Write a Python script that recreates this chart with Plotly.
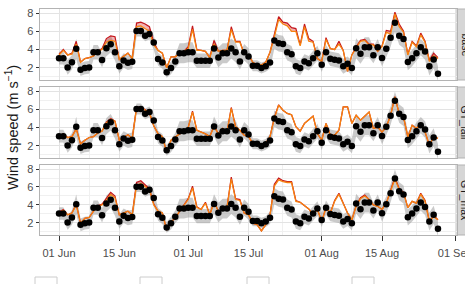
import pandas as pd
import plotly.graph_objects as go

# ---------------- data ----------------
start_date = "2019-06-01"
n_days = 89
dates = pd.date_range(start_date, periods=n_days, freq="D")

facet_labels = ["base", "GT_fall", "GT_max"]

obs = [3.05, 3.05, 2.03, 2.6, 4.07, 1.78, 1.97, 2.03, 3.7, 3.7,
       2.84, 4.15, 4.58, 3.7, 2.15, 2.8, 2.55, 2.65, 6.03, 6.03,
       5.5, 5.7, 4.76, 2.95, 2.58, 1.49, 1.97, 2.69, 3.6, 3.6,
       3.7, 3.7, 2.76, 2.76, 2.76, 2.76, 4.1, 3.13, 3.6, 3.6,
       4.1, 3.7, 2.69, 3.7, 3.24, 2.22, 2.22, 1.97, 2.15, 2.58,
       4.98, 4.69, 4.6, 3.7, 3.49, 2.15, 1.97, 2.69, 2.5, 3.05,
       3.6, 2.33, 3.7, 2.98, 2.87, 2.8, 2.15, 2.44, 1.97, 4.15,
       3.53, 4.26, 4.26, 3.38, 4.26, 3.06, 4.07, 5.3, 6.94, 5.52,
       5.16, 2.62, 3.05, 3.6, 4.26, 3.78, 2.15, 2.91, 1.35]

obs_spread = [0.7, 0.7, 0.8, 0.8, 1.1, 0.7, 0.7, 0.7, 0.8, 0.8,
              0.8, 0.9, 0.9, 0.9, 0.8, 0.8, 0.8, 0.8, 0.6, 0.6,
              0.6, 0.6, 0.8, 0.7, 0.7, 0.6, 0.7, 0.7, 1.1, 1.1,
              1.1, 1.1, 0.8, 0.8, 0.8, 0.8, 1.1, 1.1, 1.1, 1.1,
              1.1, 1.1, 0.9, 0.9, 0.9, 0.6, 0.6, 0.6, 0.6, 0.7,
              0.9, 0.9, 0.9, 0.9, 0.9, 0.8, 0.8, 0.8, 0.8, 0.8,
              0.8, 0.8, 0.8, 0.8, 0.8, 0.8, 0.8, 0.8, 0.8, 1.1,
              1.1, 1.1, 1.1, 0.9, 0.9, 0.9, 0.9, 1.0, 1.0, 1.0,
              1.0, 0.9, 0.9, 0.9, 0.9, 0.9, 1.0, 1.0, 0.8]

base_orange = [3.4, 3.9, 3.4, 3.5, 4.6, 2.6, 3.0, 3.1, 3.3, 3.8,
               4.0, 4.8, 5.0, 4.9, 2.9, 3.3, 3.6, 3.0, 6.5, 6.6,
               6.3, 6.0, 4.5, 3.9, 3.6, 2.0, 3.2, 3.2, 3.6, 3.8,
               4.1, 6.2, 3.9, 3.9, 3.8, 3.1, 4.6, 3.8, 3.9, 3.9,
               6.2, 4.8, 4.8, 3.5, 3.4, 2.6, 2.3, 2.3, 2.6, 3.7,
               5.4, 7.3, 6.8, 6.6, 6.0, 6.0, 4.4, 6.5, 4.9, 4.8,
               3.0, 2.7, 5.1, 4.1, 4.0, 4.6, 3.9, 1.6, 3.4, 4.1,
               4.9, 5.0, 4.5, 4.5, 3.8, 4.3, 5.9, 5.7, 7.9, 6.5,
               5.9, 3.4, 4.8, 4.3, 5.6, 4.8, 2.7, 3.3, 3.0]
base_red = [3.5, 4.0, 3.4, 3.6, 4.9, 2.6, 3.0, 3.1, 3.3, 3.8,
            4.1, 5.2, 5.5, 5.4, 2.9, 3.3, 3.6, 3.0, 6.9, 7.0,
            6.8, 6.5, 4.8, 3.9, 3.6, 2.0, 3.2, 3.2, 3.6, 3.8,
            4.3, 6.6, 4.0, 3.9, 3.8, 3.1, 5.0, 3.8, 3.9, 3.9,
            6.5, 4.9, 4.9, 3.5, 3.4, 2.6, 2.3, 2.3, 2.6, 3.7,
            5.6, 7.6, 7.0, 6.9, 6.4, 6.3, 4.5, 6.8, 5.2, 4.9,
            3.0, 2.7, 5.3, 4.1, 4.0, 4.9, 3.9, 1.6, 3.4, 4.3,
            5.0, 5.1, 4.6, 4.6, 3.8, 4.4, 6.1, 6.0, 8.1, 6.8,
            6.0, 3.5, 4.9, 4.4, 5.8, 4.9, 2.8, 3.6, 3.1]

fall_orange = [3.1, 3.3, 2.9, 3.0, 3.8, 2.2, 2.6, 2.9, 3.0, 3.4,
               3.6, 4.5, 4.9, 4.7, 2.6, 2.9, 3.2, 2.8, 6.1, 6.2,
               5.9, 5.6, 4.2, 3.3, 3.0, 1.3, 2.6, 3.0, 3.3, 3.5,
               4.0, 5.7, 3.7, 3.5, 3.3, 3.0, 4.1, 3.3, 3.9, 3.5,
               6.1, 4.1, 3.7, 3.15, 3.0, 2.25, 2.2, 1.9, 2.25, 3.0,
               5.0, 6.45, 5.9, 5.55, 5.4, 4.1, 3.6, 4.45, 4.9, 5.25,
               3.35, 2.6, 4.45, 3.15, 3.15, 3.7, 6.26, 6.26, 4.45, 5.35,
               4.8, 5.2, 5.7, 3.9, 4.05, 3.5, 4.05, 5.35, 7.36, 5.5,
               5.15, 2.97, 4.25, 3.9, 4.45, 3.5, 2.05, 2.97, 2.8]
fall_red = [3.1, 3.3, 2.9, 3.0, 3.9, 2.2, 2.6, 2.9, 3.0, 3.4,
            3.6, 4.6, 5.0, 4.7, 2.6, 2.9, 3.2, 2.8, 6.2, 6.3,
            5.9, 5.6, 4.2, 3.3, 3.0, 1.3, 2.6, 3.0, 3.3, 3.5,
            4.0, 5.8, 3.7, 3.5, 3.3, 3.0, 4.2, 3.3, 3.9, 3.5,
            6.2, 4.1, 3.7, 3.15, 3.0, 2.25, 2.2, 1.8, 2.25, 3.0,
            5.1, 6.5, 5.9, 5.55, 5.4, 4.1, 3.6, 4.45, 4.9, 5.25,
            3.35, 2.6, 4.45, 3.15, 3.15, 3.7, 6.26, 6.26, 4.45, 5.35,
            4.8, 5.2, 5.7, 3.9, 4.05, 3.5, 4.05, 5.35, 7.4, 5.5,
            5.15, 2.97, 4.25, 3.9, 4.45, 3.5, 2.05, 2.97, 2.8]

max_orange = [3.1, 3.4, 2.9, 3.1, 4.0, 1.97, 2.5, 2.6, 3.3, 3.85,
              4.0, 4.5, 5.17, 4.8, 2.9, 3.1, 3.3, 2.9, 6.2, 6.4,
              6.0, 5.7, 4.0, 3.3, 3.1, 1.2, 2.15, 2.5, 3.3, 4.0,
              4.6, 5.9, 3.7, 3.5, 4.2, 2.9, 4.3, 3.3, 3.5, 3.7,
              6.9, 4.6, 4.5, 3.1, 2.9, 1.97, 1.8, 1.1, 1.8, 2.9,
              6.1, 6.8, 6.6, 6.5, 6.5, 4.4, 4.3, 3.9, 3.55, 2.9,
              3.5, 2.15, 3.7, 3.1, 4.4, 5.2, 4.2, 3.1, 2.35, 3.85,
              4.7, 5.0, 4.6, 4.0, 3.85, 3.5, 4.2, 5.55, 6.9, 5.7,
              5.35, 3.7, 4.4, 4.2, 5.2, 4.4, 2.15, 2.7, 2.35]
max_red = [3.2, 3.5, 2.9, 3.1, 4.1, 1.97, 2.5, 2.6, 3.3, 3.9,
           4.1, 4.7, 5.4, 5.0, 2.9, 3.1, 3.3, 2.9, 6.5, 6.7,
           6.2, 5.8, 4.1, 3.3, 3.1, 1.2, 2.15, 2.5, 3.3, 4.0,
           4.7, 6.1, 3.8, 3.5, 4.3, 2.9, 4.4, 3.3, 3.5, 3.7,
           7.1, 4.7, 4.6, 3.1, 2.9, 1.97, 1.8, 1.1, 1.8, 2.9,
           6.3, 7.0, 6.7, 6.6, 6.6, 4.5, 4.3, 3.9, 3.55, 2.9,
           3.5, 2.15, 3.7, 3.1, 4.5, 5.3, 4.2, 3.1, 2.35, 3.9,
           4.8, 5.1, 4.6, 4.0, 3.85, 3.5, 4.2, 5.6, 7.1, 5.8,
           5.4, 3.7, 4.4, 4.2, 5.3, 4.5, 2.15, 2.8, 2.35]

model_orange = [base_orange, fall_orange, max_orange]
model_red = [base_red, fall_red, max_red]

x_tick_dates = ["2019-06-01", "2019-06-15", "2019-07-01", "2019-07-15",
                "2019-08-01", "2019-08-15", "2019-09-01"]
x_tick_labels = ["01 Jun", "15 Jun", "01 Jul", "15 Jul", "01 Aug", "15 Aug", "01 Sep"]
x_minor_dates = ["2019-06-08", "2019-06-23", "2019-07-08", "2019-07-23",
                 "2019-08-08", "2019-08-23"]
y_ticks = [2, 4, 6, 8]
y_minor = [1, 3, 5, 7]
x_range = ["2019-05-27 14:00", "2019-09-01 10:00"]
y_range = [0.65, 8.45]

# ---------------- style ----------------
FONT = "Liberation Sans, Arial, sans-serif"
ORANGE = "#f7820f"
RED = "#c4161c"
GRAY_RIB = "rgba(150,150,150,0.5)"
PINK = "rgba(215,40,40,0.35)"
BORDER = "#b3b3b3"

W, H = 465, 284
mt, mb, ml, mr = 9, 49, 40, 8
plot_h = H - mt - mb
plot_w = W - ml - mr
panels_px = [(9, 80), (87, 158), (165, 235)]
domains = [[(H - mb - b) / plot_h, (H - mb - t) / plot_h] for (t, b) in panels_px]

lo = [o - s for o, s in zip(obs, obs_spread)]
hi = [o + s for o, s in zip(obs, obs_spread)]

fig = go.Figure()
for i in range(3):
    xa = "x" if i == 0 else f"x{i+1}"
    ya = "y" if i == 0 else f"y{i+1}"
    fig.add_trace(go.Scatter(x=dates, y=lo, mode="lines", line=dict(width=0),
                             xaxis=xa, yaxis=ya, showlegend=False, hoverinfo="skip"))
    fig.add_trace(go.Scatter(x=dates, y=hi, mode="lines", line=dict(width=0),
                             fill="tonexty", fillcolor=GRAY_RIB,
                             xaxis=xa, yaxis=ya, showlegend=False, hoverinfo="skip"))
    fig.add_trace(go.Scatter(x=dates, y=model_orange[i], mode="lines",
                             line=dict(width=0), xaxis=xa, yaxis=ya,
                             showlegend=False, hoverinfo="skip"))
    fig.add_trace(go.Scatter(x=dates, y=model_red[i], mode="lines",
                             line=dict(color=RED, width=1.2), fill="tonexty",
                             fillcolor=PINK, xaxis=xa, yaxis=ya, showlegend=False))
    fig.add_trace(go.Scatter(x=dates, y=model_orange[i], mode="lines",
                             line=dict(color=ORANGE, width=1.3),
                             xaxis=xa, yaxis=ya, showlegend=False))
    fig.add_trace(go.Scatter(x=dates, y=obs, mode="markers",
                             marker=dict(color="black", size=6.5),
                             xaxis=xa, yaxis=ya, showlegend=False))

layout = dict(
    width=W, height=H,
    margin=dict(l=ml, r=mr, t=mt, b=mb, pad=0, autoexpand=False),
    paper_bgcolor="white", plot_bgcolor="white",
    font=dict(family=FONT, color="#4d4d4d", size=10),
    shapes=[], annotations=[],
)
for i in range(3):
    xk = "xaxis" if i == 0 else f"xaxis{i+1}"
    yk = "yaxis" if i == 0 else f"yaxis{i+1}"
    ya = "y" if i == 0 else f"y{i+1}"
    layout[xk] = dict(
        domain=[0, 1], anchor=ya, range=x_range, type="date", automargin=False,
        tickmode="array", tickvals=x_tick_dates, ticktext=x_tick_labels,
        showticklabels=(i == 2), ticks="outside" if i == 2 else "", ticklen=5,
        tickcolor="#333333", tickwidth=1, ticklabelstandoff=3,
        ticklabeloverflow="allow",
        showgrid=True, gridcolor="#e3e3e3", gridwidth=0.8,
        minor=dict(tickmode="array", tickvals=x_minor_dates, showgrid=True,
                   gridcolor="#f0f0f0", gridwidth=0.5),
        showline=True, linecolor=BORDER, linewidth=1, mirror=True,
        zeroline=False, tickfont=dict(size=11, color="#4d4d4d"),
    )
    if i > 0:
        layout[xk]["matches"] = "x"
    layout[yk] = dict(
        domain=domains[i], anchor="x" if i == 0 else f"x{i+1}", range=y_range,
        automargin=False,
        tickmode="array", tickvals=y_ticks, ticks="outside", ticklen=3.5,
        tickcolor="#333333", tickwidth=1,
        showgrid=True, gridcolor="#e3e3e3", gridwidth=0.8,
        minor=dict(tickmode="array", tickvals=y_minor, showgrid=True,
                   gridcolor="#f0f0f0", gridwidth=0.5),
        showline=True, linecolor=BORDER, linewidth=1, mirror=True,
        zeroline=False, tickfont=dict(size=11, color="#4d4d4d"),
    )
    # facet strip on the right
    layout["shapes"].append(dict(type="rect", xref="paper", yref="paper",
                                 x0=1.0, x1=1.06, y0=domains[i][0], y1=domains[i][1],
                                 fillcolor="#d6d6d6", line=dict(color=BORDER, width=1),
                                 layer="below"))
    layout["annotations"].append(dict(text=facet_labels[i], xref="paper", yref="paper",
                                      x=1.0, y=(domains[i][0] + domains[i][1]) / 2,
                                      xanchor="center", yanchor="middle", xshift=8,
                                      textangle=90, showarrow=False,
                                      font=dict(size=10.5, color="#1a1a1a", family=FONT)))

layout["annotations"].append(dict(text="Wind speed (m s<sup>−1</sup>)", xref="paper",
                                  yref="paper", x=0, y=0.5, xshift=-28, yshift=-6,
                                  xanchor="center", yanchor="middle", textangle=-90,
                                  showarrow=False,
                                  font=dict(size=14.5, color="#1a1a1a", family=FONT)))

# cut-off legend keys at the bottom
legend_key_x = [35, 140, 247, 352]
key_top = 277
for kx in legend_key_x:
    layout["shapes"].append(dict(type="rect", xref="paper", yref="paper",
                                 x0=(kx - ml) / plot_w, x1=(kx + 22 - ml) / plot_w,
                                 y0=-(key_top + 30 - (H - mb)) / plot_h,
                                 y1=-(key_top - (H - mb)) / plot_h,
                                 fillcolor="white", line=dict(color="#cccccc", width=1)))

fig.update_layout(**layout)
fig.write_html("out.html")
